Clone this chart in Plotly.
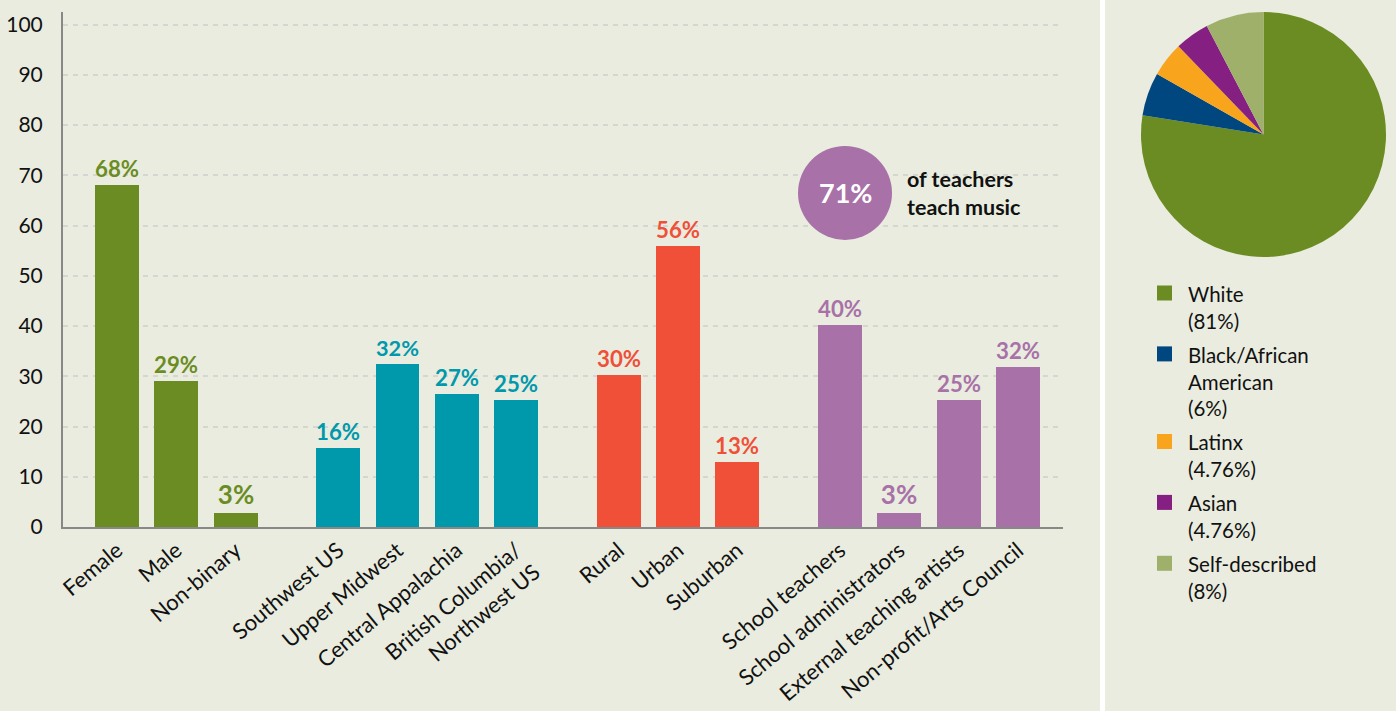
import plotly.graph_objects as go

# ---------------- data ----------------
gender_cats = ["Female", "Male", "Non-binary"]
gender_vals = [68, 29, 2.7]
gender_labels = ["68%", "29%", "3%"]

region_cats = ["Southwest US", "Upper Midwest", "Central Appalachia", "British Columbia/<br>Northwest US"]
region_vals = [15.8, 32.5, 26.4, 25.2]
region_labels = ["16%", "32%", "27%", "25%"]

setting_cats = ["Rural", "Urban", "Suburban"]
setting_vals = [30.3, 56, 13]
setting_labels = ["30%", "56%", "13%"]

role_cats = ["School teachers", "School administrators", "External teaching artists", "Non-profit/Arts Council"]
role_vals = [40.2, 2.7, 25.3, 31.8]
role_labels = ["40%", "3%", "25%", "32%"]

music_share = "71%"
music_text = "of teachers<br>teach music"

race_labels = ["White", "Black/African<br>American", "Latinx", "Asian", "Self-described"]
race_pct_text = ["81%", "6%", "4.76%", "4.76%", "8%"]
race_vals = [81, 6, 4.76, 4.76, 8]

y_ticks = [0, 10, 20, 30, 40, 50, 60, 70, 80, 90, 100]

# ---------------- styling ----------------
BG = "#e9ecdf"
FONT = "Lato"
group_colors = ["#6b8c22", "#0098ab", "#f04f38", "#a871a8"]
race_colors = ["#6b8c22", "#00467f", "#f8a51d", "#851f82", "#9fb06b"]

groups = [
    (gender_cats, gender_vals, gender_labels),
    (region_cats, region_vals, region_labels),
    (setting_cats, setting_vals, setting_labels),
    (role_cats, role_vals, role_labels),
]

W, H = 1396, 711
plot_left, plot_right = 63, 1063
plot_top, plot_bottom = 12, 527
x_min, x_max = -0.91, 15.95
px_per_unit = (plot_right - plot_left) / (x_max - x_min)

fig = go.Figure()

tickvals, ticktext = [], []
pos = 0.0
group_gap = 0.73
for gi, (cats, vals, labs) in enumerate(groups):
    xs = []
    for c in cats:
        xs.append(pos)
        tickvals.append(pos)
        ticktext.append(c)
        pos += 1
    pos += group_gap
    fig.add_trace(go.Bar(
        x=xs, y=vals, text=labs, textposition="outside",
        textfont=dict(family=FONT, size=26, color=group_colors[gi], weight="bold"),
        marker=dict(color=group_colors[gi], line=dict(width=0)),
        width=0.74, cliponaxis=False, showlegend=False, hoverinfo="skip",
    ))

fig.add_trace(go.Pie(
    labels=[l.replace("<br>", " ") for l in race_labels],
    values=race_vals, sort=False, direction="clockwise", rotation=0,
    marker=dict(colors=race_colors, line=dict(width=0)),
    textinfo="none", hoverinfo="label+percent",
    domain=dict(x=[1141 / W, 1386 / W], y=[1 - 257 / H, 1 - 12 / H]),
    showlegend=False,
))

# custom legend (squares + text lines) for the pie
line_h = 26.7
item_gap = 7.5
y_line = 293.0
for lab, pct, col in zip(race_labels, race_pct_text, race_colors):
    lines = lab.split("<br>") + [f"({pct})"]
    fig.add_shape(type="rect", xref="paper", yref="paper",
                  x0=1157 / W, x1=1172 / W,
                  y0=1 - (y_line + 7.5) / H, y1=1 - (y_line - 7.5) / H,
                  fillcolor=col, line=dict(width=0))
    for ln in lines:
        fig.add_annotation(x=1186 / W, y=1 - (y_line + 1) / H, xref="paper", yref="paper",
                           text=ln, showarrow=False, xanchor="left", yanchor="middle",
                           font=dict(family=FONT, size=20.5, color="#111111"))
        y_line += line_h
    y_line += item_gap

# circle callout
cx = x_min + (845 - plot_left) / px_per_unit
cy = 66.5
fig.add_shape(type="circle", xref="x", yref="y", xsizemode="pixel", ysizemode="pixel",
              xanchor=cx, yanchor=cy, x0=-47, x1=47, y0=-47, y1=47,
              fillcolor="#a871a8", line=dict(width=0), layer="above")
fig.add_annotation(x=cx, y=cy, xref="x", yref="y", text=music_share, showarrow=False,
                   font=dict(family=FONT, size=27, color="white", weight="bold"))
fig.add_annotation(x=x_min + (905 - plot_left) / px_per_unit, y=cy, xref="x", yref="y", text=music_text,
                   showarrow=False, xanchor="left", yanchor="middle", align="left",
                   font=dict(family=FONT, size=21.5, color="#111111", weight="bold"))

# white separator
fig.add_shape(type="line", xref="paper", yref="paper", x0=1102.5 / W, x1=1102.5 / W, y0=0, y1=1,
              line=dict(color="white", width=5))

fig.update_layout(
    width=W, height=H, paper_bgcolor=BG, plot_bgcolor=BG,
    margin=dict(l=0, r=0, t=0, b=0),
    font=dict(family=FONT, color="#111111"),
    bargap=0,
    showlegend=False,
    xaxis=dict(domain=[plot_left / W, plot_right / W], range=[x_min, x_max],
               tickvals=tickvals, ticktext=ticktext, tickangle=-40,
               tickfont=dict(family=FONT, size=22, color="#111111"),
               showgrid=False, zeroline=False, showline=True, linecolor="#888888", linewidth=2,
               ticks="", automargin=False, fixedrange=True),
    yaxis=dict(domain=[1 - plot_bottom / H, 1 - plot_top / H], range=[0, 102.5],
               tickvals=y_ticks, tickfont=dict(family=FONT, size=21, color="#111111"),
               showgrid=True, gridcolor="#d4d7cf", gridwidth=1.5, griddash="5px,5px",
               zeroline=False, showline=True, linecolor="#888888", linewidth=2,
               ticks="", ticklabelstandoff=14, automargin=False, fixedrange=True),
)

fig.write_html("out.html")
